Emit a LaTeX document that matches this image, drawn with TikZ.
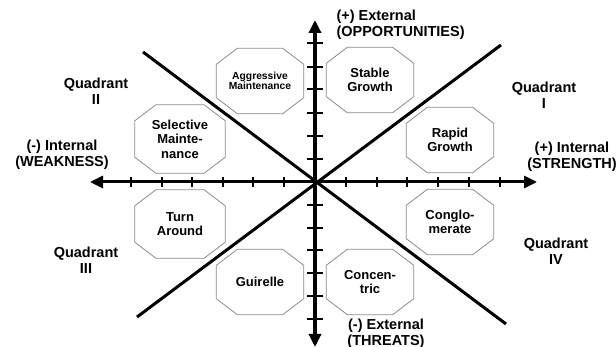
\documentclass[tikz,border=0pt]{standalone}
\usepackage{fontspec}
\setmainfont{Liberation Sans}
\usetikzlibrary{arrows.meta}
\newcommand\octag[1]{\draw[octline] ([xshift=21pt]#1.north west) -- ([xshift=-21pt]#1.north east) -- ([yshift=-16pt]#1.north east) -- ([yshift=16pt]#1.south east) -- ([xshift=-21pt]#1.south east) -- ([xshift=21pt]#1.south west) -- ([yshift=16pt]#1.south west) -- ([yshift=-16pt]#1.north west) -- cycle;}
\begin{document}
\begin{tikzpicture}[x=1pt,y=-1pt,
  octbox/.style={minimum width=87pt,minimum height=65pt,inner sep=0pt,align=center,
    font=\bfseries\fontsize{13}{14.5}\selectfont},
  octline/.style={draw=black!45,line width=0.8pt,fill=white},
  lab/.style={align=center,font=\bfseries\fontsize{14.5}{15.5}\selectfont},
  axis/.style={line width=3pt},
  diag/.style={line width=3pt},
  tick/.style={line width=2pt},
  tip/.style={-{Triangle[length=13pt,width=12pt]}}]
\useasboundingbox (0,0) rectangle (616,347);
\coordinate (O) at (315,182);
\coordinate (L) at (90,182);
\coordinate (R) at (537,182);
\coordinate (T) at (315,20);
\coordinate (B) at (315,347);
\coordinate (D1a) at (143,52);
\coordinate (D1b) at (506,324);
\coordinate (D2a) at (501,45);
\coordinate (D2b) at (137,317);
% diagonals
\draw[diag] (D1a) -- (D1b);
\draw[diag] (D2a) -- (D2b);
% axes
\draw[axis,tip] (O) -- (L);
\draw[axis,tip] (O) -- (R);
\draw[axis,line width=4pt,tip] (O) -- (T);
\draw[axis,line width=4pt,tip] (O) -- (B);
% ticks
\foreach \x in {131,162,192,223,253,284,346,377,407,438,469,500}
  \draw[tick] (\x,177) -- (\x,187);
\foreach \y in {43,67,89,113,136,159,205,228,250,273,296,319}
  \draw[tick] (307,\y) -- (323,\y);
% octagons
\node[octbox] (agg) at (260,81) {};
\node[octbox,minimum width=90pt,minimum height=68pt] (sel) at (180,139) {};
\node[octbox] (stab) at (370,80) {};
\node[octbox] (rap) at (450,140) {};
\node[octbox,minimum width=90pt,minimum height=68pt] (turn) at (180,224) {};
\node[octbox] (gui) at (260,282) {};
\node[octbox] (cong) at (450,222) {};
\node[octbox] (conc) at (370,282) {};
\foreach \n in {agg,sel,stab,rap,turn,gui,cong,conc} {\octag{\n}}
\node[octbox,font=\bfseries\fontsize{10.3}{10.5}\selectfont] at (agg) {Aggressive\\Maintenance};
\node[octbox] at (sel) {Selective\\Mainte-\\nance};
\node[octbox] at (stab) {Stable\\Growth};
\node[octbox] at (rap) {Rapid\\Growth};
\node[octbox] at (turn) {Turn\\Around};
\node[octbox] at (gui) {Guirelle};
\node[octbox] at (cong) {Conglo-\\merate};
\node[octbox] at (conc) {Concen-\\tric};
% labels
\node[lab] (q2) at (96,91) {Quadrant\\II};
\node[lab] (q1) at (544,95) {Quadrant\\I};
\node[lab] (q3) at (86,260) {Quadrant\\III};
\node[lab] (q4) at (556,251) {Quadrant\\IV};
\node[lab] (wk) at (62,155) {(-) Internal\\(WEAKNESS)};
\node[lab] (st) at (572,157) {(+) Internal\\(STRENGTH)};
\node[lab,align=left,anchor=west] (op) at (333,25) {(+) External\\(OPPORTUNITIES)};
\node[lab] (th) at (386,334) {(-) External\\(THREATS)};
\end{tikzpicture}
\end{document}
